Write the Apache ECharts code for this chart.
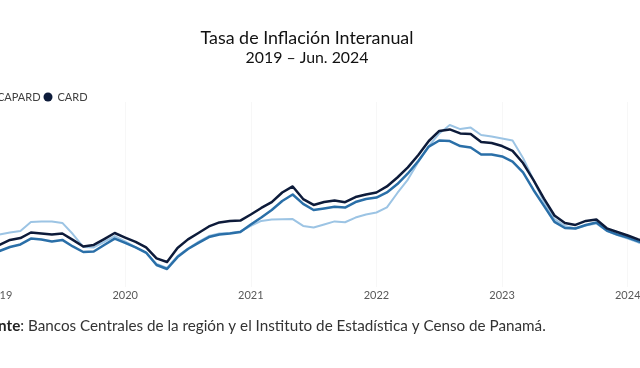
<!DOCTYPE html>
<html><head><meta charset="utf-8">
<script src="https://cdn.jsdelivr.net/npm/echarts@6/dist/echarts.min.js"></script>
<style>
html,body{margin:0;padding:0;width:640px;height:368px;overflow:hidden;background:#fff}
#c{position:absolute;left:-60px;top:0;width:800px;height:368px}
</style>
</head><body><div id="c"></div>
<script>
// ---- data ----
const categories = [];
for (let y = 2019; y <= 2024; y++) {
  for (let m = 1; m <= 12; m++) {
    if (y === 2024 && m > 6) break;
    categories.push(y + '-' + String(m).padStart(2, '0'));
  }
}
const yearLabels = ['2019', '2020', '2021', '2022', '2023', '2024'];
const seriesNames = ['CA', 'CAPARD', 'CARD'];
const serieCA = [
  2.12, 2.24, 2.33, 2.87, 2.90, 2.90, 2.81, 2.15, 1.38, 1.35, 1.68, 2.03,
  1.71, 1.35, 1.02, 0.37, 0.13, 0.84, 1.29, 1.68, 2.03, 2.18, 2.21, 2.30,
  2.63, 2.93, 3.01, 3.03, 3.04, 2.63, 2.54, 2.72, 2.90, 2.85, 3.13, 3.31,
  3.43, 3.73, 4.59, 5.39, 6.43, 7.38, 8.13, 8.63, 8.39, 8.48, 8.04, 7.95,
  7.83, 7.71, 6.67, 5.36, 4.05, 3.04, 2.63, 2.48, 2.66, 2.78, 2.33, 2.09,
  1.88, 1.65, 1.47, 1.29, 1.14, 0.99
];
const serieCAPARD = [
  1.14, 1.38, 1.53, 1.88, 1.83, 1.71, 1.80, 1.41, 1.08, 1.11, 1.50, 1.88,
  1.62, 1.35, 1.05, 0.31, 0.07, 0.78, 1.26, 1.62, 1.97, 2.12, 2.18, 2.27,
  2.72, 3.13, 3.58, 4.11, 4.50, 3.94, 3.58, 3.67, 3.77, 3.72, 4.05, 4.23,
  4.32, 4.62, 5.12, 5.75, 6.49, 7.35, 7.71, 7.68, 7.38, 7.29, 6.88, 6.88,
  6.76, 6.46, 5.81, 4.77, 3.82, 2.87, 2.51, 2.48, 2.69, 2.84, 2.36, 2.12,
  1.94, 1.71, 1.53, 1.35, 1.20, 1.05
];
const serieCARD = [
  1.50, 1.80, 1.91, 2.24, 2.18, 2.12, 2.18, 1.80, 1.41, 1.50, 1.85, 2.21,
  1.94, 1.68, 1.35, 0.70, 0.49, 1.32, 1.83, 2.21, 2.60, 2.84, 2.93, 2.95,
  3.31, 3.70, 4.05, 4.62, 4.98, 4.23, 3.88, 4.05, 4.14, 4.04, 4.35, 4.50,
  4.62, 4.98, 5.51, 6.11, 6.85, 7.68, 8.28, 8.37, 8.13, 8.10, 7.62, 7.56,
  7.38, 7.09, 6.37, 5.36, 4.26, 3.25, 2.81, 2.69, 2.93, 3.01, 2.49, 2.27,
  2.06, 1.83, 1.62, 1.44, 1.29, 1.14
];
const titleText = 'Tasa de Inflación Interanual';
const subtitleText = '2019 – Jun. 2024';
const sourceLabel = 'Fuente';
const sourceText = 'Bancos Centrales de la región y el Instituto de Estadística y Censo de Panamá.';

// ---- layout helpers ----
const OFF = 60;
const FONT = "Lato, 'Noto Sans', sans-serif";
const mctx = document.createElement('canvas').getContext('2d');
function measure(t, size, weight) {
  mctx.font = (weight || 'normal') + ' ' + size + 'px ' + FONT;
  return mctx.measureText(t).width;
}
function fit(t, target, weight) { return 12 * target / measure(t, 12, weight); }

const titleSize = fit(titleText, 213);
const subSize = fit(subtitleText, 123);
const srcSize = fit(sourceText, 518);
const srcX = 28 - measure(sourceLabel, srcSize, 'bold') - measure(': ', srcSize);

const legFont = 11;
const legGap = 3;
const legLeft = OFF + 43.5 - legGap - (9 + 5 + measure('CAPARD', legFont)) - legGap - (9 + 5 + measure('CA', legFont));

const colors = ['#9cc4e4', '#2a6fa8', '#0d1b3a'];
const chart = echarts.init(document.getElementById('c'));
chart.setOption({
  animation: false,
  color: colors,
  legend: {
    data: seriesNames,
    left: legLeft, top: 91, padding: 0,
    icon: 'circle', itemWidth: 9, itemHeight: 9, itemGap: legGap,
    textStyle: { fontFamily: FONT, fontSize: legFont, color: '#404040', lineHeight: 12 }
  },
  grid: { left: OFF - 0.5, width: 680.6, top: 102, height: 185 },
  xAxis: {
    type: 'category', data: categories, boundaryGap: false,
    axisLine: { show: false }, axisTick: { show: false },
    axisLabel: {
      interval: (i) => i % 12 === 0,
      formatter: (v, i) => yearLabels[Math.floor(i / 12)],
      fontFamily: "'Liberation Sans Narrow', " + FONT, fontSize: 11, color: '#595959', margin: 3
    },
    splitLine: { show: true, interval: (i) => i % 12 === 0, lineStyle: { color: '#f7f7f7', width: 1 } }
  },
  yAxis: {
    type: 'value', min: -1, max: 10, show: false, splitLine: { show: false }
  },
  series: [
    { name: seriesNames[0], type: 'line', data: serieCA, symbol: 'none', lineStyle: { width: 2, color: colors[0], join: 'round' }, z: 2 },
    { name: seriesNames[1], type: 'line', data: serieCAPARD, symbol: 'none', lineStyle: { width: 2.5, color: colors[1], join: 'round' }, z: 3 },
    { name: seriesNames[2], type: 'line', data: serieCARD, symbol: 'none', lineStyle: { width: 2.5, color: colors[2], join: 'round' }, z: 4 }
  ],
  graphic: [
    { type: 'text', x: OFF + 307, y: 38.5, style: { text: titleText, font: titleSize.toFixed(2) + 'px ' + FONT, fill: '#111', textAlign: 'center', textVerticalAlign: 'middle' } },
    { type: 'text', x: OFF + 307, y: 58, style: { text: subtitleText, font: subSize.toFixed(2) + 'px ' + FONT, fill: '#111', textAlign: 'center', textVerticalAlign: 'middle' } },
    { type: 'text', x: OFF + srcX, y: 326, style: {
        text: '{b|' + sourceLabel + '}: ' + sourceText,
        font: srcSize.toFixed(2) + 'px ' + FONT, fill: '#333', textAlign: 'left', textVerticalAlign: 'middle',
        rich: { b: { fontWeight: 'bold', fontSize: srcSize, fontFamily: FONT, fill: '#222' } }
      } }
  ]
});
</script>
</body></html>
